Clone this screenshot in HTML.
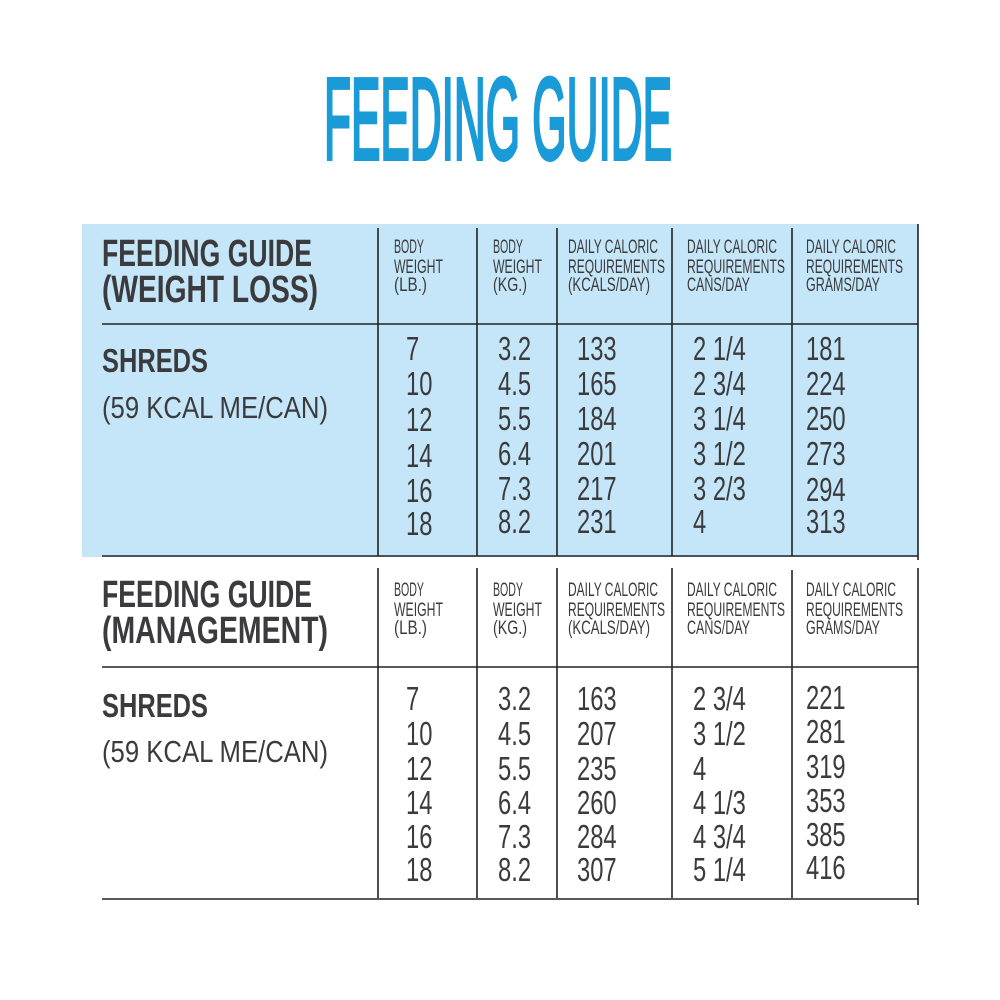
<!DOCTYPE html>
<html><head><meta charset="utf-8"><style>html,body{margin:0;padding:0;background:#fff}svg{display:block}</style></head>
<body>
<svg width="1000" height="1000" viewBox="0 0 1000 1000" xmlns="http://www.w3.org/2000/svg" font-family="'Liberation Sans Narrow','Liberation Sans',sans-serif" fill="#3b3b3d">
<rect x="0" y="0" width="1000" height="1000" fill="#fff"/>
<text x="324" y="159" font-size="116" fill="#1a9ad6" stroke="#1a9ad6" stroke-width="4" textLength="348" lengthAdjust="spacingAndGlyphs">FEEDING GUIDE</text>
<rect x="82" y="224" width="836" height="333" fill="#c5e6f8"/>
<g stroke="#222" stroke-width="1.6">
<line x1="378" y1="228" x2="378" y2="556"/><line x1="477" y1="228" x2="477" y2="556"/><line x1="557" y1="228" x2="557" y2="556"/><line x1="672" y1="228" x2="672" y2="556"/><line x1="792" y1="228" x2="792" y2="556"/><line x1="918" y1="224" x2="918" y2="560"/>
<line x1="102" y1="324" x2="918" y2="324"/><line x1="102" y1="556" x2="918" y2="556"/>
<line x1="378" y1="568" x2="378" y2="898"/><line x1="477" y1="568" x2="477" y2="898"/><line x1="557" y1="568" x2="557" y2="898"/><line x1="672" y1="568" x2="672" y2="898"/><line x1="792" y1="570" x2="792" y2="898"/><line x1="918" y1="568" x2="918" y2="905"/>
<line x1="102" y1="667" x2="918" y2="667"/><line x1="102" y1="899" x2="918" y2="899"/>
</g>
<g font-weight="bold" font-size="38">
<text x="102" y="266" textLength="210" lengthAdjust="spacingAndGlyphs">FEEDING GUIDE</text>
<text x="102" y="302" textLength="216" lengthAdjust="spacingAndGlyphs">(WEIGHT LOSS)</text>
<text x="102" y="607" textLength="210" lengthAdjust="spacingAndGlyphs">FEEDING GUIDE</text>
<text x="102" y="643" textLength="226" lengthAdjust="spacingAndGlyphs">(MANAGEMENT)</text>
<text x="102" y="372" font-size="33" textLength="106" lengthAdjust="spacingAndGlyphs">SHREDS</text>
<text x="102" y="717" font-size="33" textLength="106" lengthAdjust="spacingAndGlyphs">SHREDS</text>
</g>
<text x="102" y="418" font-size="31" textLength="226" lengthAdjust="spacingAndGlyphs">(59 KCAL ME/CAN)</text>
<text x="102" y="762" font-size="31" textLength="226" lengthAdjust="spacingAndGlyphs">(59 KCAL ME/CAN)</text>
<g font-size="19">
<g id="h1">
<text x="394" y="253" textLength="30" lengthAdjust="spacingAndGlyphs">BODY</text>
<text x="394" y="273" textLength="49" lengthAdjust="spacingAndGlyphs">WEIGHT</text>
<text x="394" y="291" textLength="33" lengthAdjust="spacingAndGlyphs">(LB.)</text>
<text x="493" y="253" textLength="30" lengthAdjust="spacingAndGlyphs">BODY</text>
<text x="493" y="273" textLength="49" lengthAdjust="spacingAndGlyphs">WEIGHT</text>
<text x="493" y="291" textLength="34" lengthAdjust="spacingAndGlyphs">(KG.)</text>
<text x="568" y="253" textLength="90" lengthAdjust="spacingAndGlyphs">DAILY CALORIC</text>
<text x="568" y="273" textLength="97" lengthAdjust="spacingAndGlyphs">REQUIREMENTS</text>
<text x="568" y="291" textLength="82" lengthAdjust="spacingAndGlyphs">(KCALS/DAY)</text>
<text x="687" y="253" textLength="90" lengthAdjust="spacingAndGlyphs">DAILY CALORIC</text>
<text x="687" y="273" textLength="98" lengthAdjust="spacingAndGlyphs">REQUIREMENTS</text>
<text x="687" y="291" textLength="63" lengthAdjust="spacingAndGlyphs">CANS/DAY</text>
<text x="806" y="253" textLength="90" lengthAdjust="spacingAndGlyphs">DAILY CALORIC</text>
<text x="806" y="273" textLength="97" lengthAdjust="spacingAndGlyphs">REQUIREMENTS</text>
<text x="806" y="291" textLength="74" lengthAdjust="spacingAndGlyphs">GRAMS/DAY</text>
</g>
<use href="#h1" transform="translate(0,343)"/>
</g>
<g font-size="33">
<g transform="translate(406,0) scale(0.72,1)">
<text y="360">7</text><text y="395">10</text><text y="431">12</text><text y="467">14</text><text y="502">16</text><text y="535">18</text>
<text y="710">7</text><text y="745">10</text><text y="780">12</text><text y="814">14</text><text y="848">16</text><text y="881">18</text>
</g>
<g transform="translate(498,0) scale(0.72,1)">
<text y="360">3.2</text><text y="395">4.5</text><text y="430">5.5</text><text y="465">6.4</text><text y="500">7.3</text><text y="533">8.2</text>
<text y="710">3.2</text><text y="745">4.5</text><text y="780">5.5</text><text y="814">6.4</text><text y="848">7.3</text><text y="881">8.2</text>
</g>
<g transform="translate(577,0) scale(0.72,1)">
<text y="360">133</text><text y="395">165</text><text y="430">184</text><text y="465">201</text><text y="500">217</text><text y="533">231</text>
<text y="710">163</text><text y="745">207</text><text y="780">235</text><text y="814">260</text><text y="848">284</text><text y="881">307</text>
</g>
<g transform="translate(693,0) scale(0.72,1)">
<text y="360">2 1/4</text><text y="395">2 3/4</text><text y="430">3 1/4</text><text y="465">3 1/2</text><text y="500">3 2/3</text><text y="533">4</text>
<text y="710">2 3/4</text><text y="745">3 1/2</text><text y="780">4</text><text y="814">4 1/3</text><text y="848">4 3/4</text><text y="881">5 1/4</text>
</g>
<g transform="translate(806,0) scale(0.72,1)">
<text y="360">181</text><text y="395">224</text><text y="430">250</text><text y="465">273</text><text y="501">294</text><text y="533">313</text>
<text y="709">221</text><text y="743">281</text><text y="778">319</text><text y="812">353</text><text y="846">385</text><text y="879">416</text>
</g>
</g>
</svg>
</body></html>
